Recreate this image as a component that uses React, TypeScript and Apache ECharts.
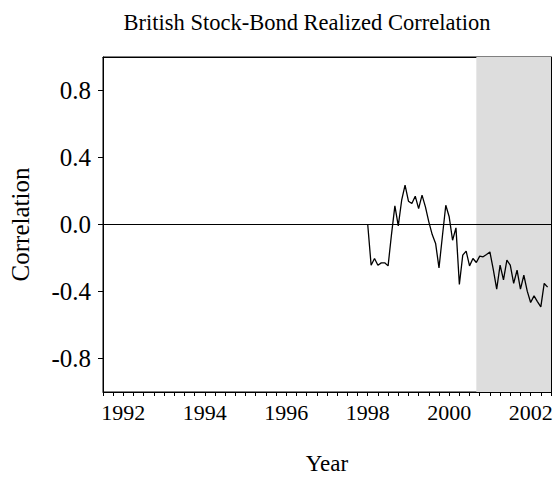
import React, { useEffect, useRef } from "react";
import * as echarts from "echarts";

// Monthly realized correlation, starting July 1998
const startYear = 1998;
const startMonth = 7;
const correlation = [
  0.0, -0.243, -0.203, -0.243, -0.229, -0.229, -0.247, -0.06, 0.111, -0.008,
  0.145, 0.235, 0.139, 0.125, 0.169, 0.095, 0.175, 0.105, 0.016, -0.06,
  -0.113, -0.259, -0.07, 0.115, 0.046, -0.094, -0.02, -0.358, -0.183, -0.159,
  -0.247, -0.203, -0.227, -0.189, -0.193, -0.179, -0.164, -0.27, -0.386, -0.243,
  -0.33, -0.213, -0.243, -0.352, -0.273, -0.386, -0.303, -0.398, -0.466, -0.426,
  -0.46, -0.492, -0.352, -0.374,
];

const yearLabels = [1992, 1994, 1996, 1998, 2000, 2002];
const yTicks = [-0.8, -0.4, 0.0, 0.4, 0.8];
const shadeStart = 2001 + 2 / 12; // March 2001
const shadeEnd = 2003;
const xMin = 1992;
const xMax = 2003;

const FONT = "Liberation Serif";

export default function App() {
  const ref = useRef<HTMLDivElement>(null);
  useEffect(() => {
    document.body.style.margin = "0";
    const chart = echarts.init(ref.current!, null, { renderer: "svg" });
    const data = correlation.map((v, i) => [
      startYear + (startMonth - 1 + i) / 12,
      v,
    ]);
    const quarterTicks: number[] = [];
    for (let q = xMin * 4; q <= xMax * 4; q++) quarterTicks.push(q / 4);
    const labelPos = yearLabels.map((y) => y + 0.5);

    chart.setOption({
      animation: false,
      backgroundColor: "#ffffff",
      textStyle: { fontFamily: FONT },
      graphic: [
        {
          type: "text",
          x: 307,
          y: 22,
          style: {
            text: "British Stock-Bond Realized Correlation",
            font: `22.5px "${FONT}"`,
            fill: "#000",
            textAlign: "center",
            textVerticalAlign: "middle",
          },
        },
      ],
      grid: {
        left: 103,
        right: 5,
        top: 57,
        bottom: 95,
        show: true,
        backgroundColor: "#ffffff",
        borderColor: "#000",
        borderWidth: 1,
      },
      xAxis: [
        {
          type: "value",
          min: xMin,
          max: xMax,
          name: "Year",
          nameLocation: "middle",
          nameGap: 60,
          nameTextStyle: { fontFamily: FONT, fontSize: 23, color: "#000" },
          axisLine: { show: true, onZero: false, lineStyle: { color: "#000", width: 1 } },
          axisTick: {
            show: true,
            inside: false,
            length: 4,
            customValues: quarterTicks,
            lineStyle: { color: "#000", width: 1 },
          },
          axisLabel: {
            customValues: labelPos,
            formatter: (v: number) => String(Math.floor(v)),
            fontFamily: FONT,
            fontSize: 22,
            color: "#000",
            margin: 9,
          },
          splitLine: { show: false },
        },
        {
          type: "value",
          position: "top",
          min: xMin,
          max: xMax,
          axisLine: { show: true, onZero: false, lineStyle: { color: "#000", width: 1 } },
          axisTick: { show: false },
          axisLabel: { show: false },
          splitLine: { show: false },
        },
      ],
      yAxis: [
        {
          type: "value",
          min: -1,
          max: 1,
          name: "Correlation",
          nameLocation: "middle",
          nameGap: 70,
          nameTextStyle: { fontFamily: FONT, fontSize: 25, color: "#000" },
          axisLine: { show: true, onZero: false, lineStyle: { color: "#000", width: 1 } },
          axisTick: {
            show: true,
            inside: false,
            length: 5,
            customValues: yTicks,
            lineStyle: { color: "#000", width: 1 },
          },
          axisLabel: {
            customValues: yTicks,
            formatter: (v: number) => (Math.abs(v) < 1e-9 ? "0.0" : v.toFixed(1)),
            fontFamily: FONT,
            fontSize: 25,
            color: "#000",
            margin: 12,
          },
          splitLine: { show: false },
        },
        {
          type: "value",
          position: "right",
          min: -1,
          max: 1,
          axisLine: { show: true, onZero: false, lineStyle: { color: "#000", width: 1 } },
          axisTick: { show: false },
          axisLabel: { show: false },
          splitLine: { show: false },
        },
      ],
      series: [
        {
          type: "line",
          z: 1,
          data: [],
          silent: true,
          markArea: {
            silent: true,
            itemStyle: { color: "#dddddd" },
            data: [[{ xAxis: shadeStart }, { xAxis: shadeEnd }]],
          },
        },
        {
          type: "line",
          z: 3,
          data,
          showSymbol: false,
          symbol: "none",
          lineStyle: { color: "#000", width: 1.3 },
          markLine: {
            silent: true,
            symbol: "none",
            label: { show: false },
            lineStyle: { color: "#000", width: 1, type: "solid" },
            data: [{ yAxis: 0 }],
          },
        },
      ],
    });
    return () => chart.dispose();
  }, []);
  return <div ref={ref} style={{ width: 556, height: 487 }} />;
}
